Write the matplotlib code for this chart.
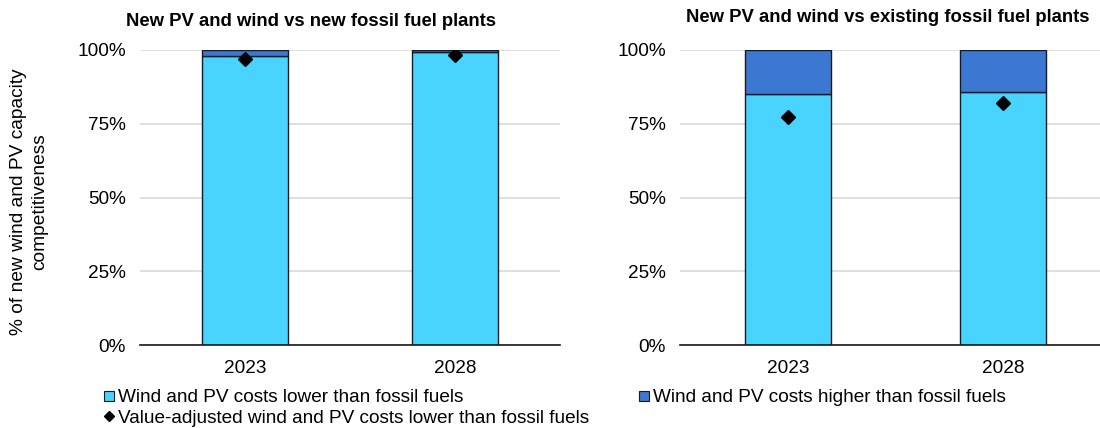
import matplotlib
matplotlib.use("Agg")
import matplotlib.pyplot as plt
from matplotlib.lines import Line2D
from matplotlib.ticker import PercentFormatter

plt.rcParams['font.family'] = ['Liberation Sans', 'DejaVu Sans']

years = ['2023', '2028']
# New PV and wind vs new fossil fuel plants
new_lower = [97.8, 99.3]
new_adj = [97.0, 98.3]
# New PV and wind vs existing fossil fuel plants
exist_lower = [85.0, 85.7]
exist_adj = [77.2, 82.0]

light = '#48D4FF'
dark = '#3C78D2'
fs = 13.7

fig = plt.figure(figsize=(11, 4.28), dpi=100)
ax1 = fig.add_axes([140 / 1100, 83 / 428, 420 / 1100, 295 / 428])
ax2 = fig.add_axes([680 / 1100, 83 / 428, 420 / 1100, 295 / 428])


def draw(ax, lower, adj, xlim, width):
    pos = list(range(len(years)))
    higher = [100 - v for v in lower]
    ax.bar(pos, lower, width=width, color=light, edgecolor='#1a1a1a', linewidth=1, zorder=2)
    ax.bar(pos, higher, bottom=lower, width=width, color=dark, edgecolor='#1a1a1a', linewidth=1, zorder=2)
    ax.plot(pos, adj, linestyle='none', marker='D', color='black', markersize=7.5, zorder=3)
    ax.set_xlim(*xlim)
    ax.set_ylim(0, 100)
    ax.set_yticks([0, 25, 50, 75, 100])
    ax.yaxis.set_major_formatter(PercentFormatter(decimals=0))
    ax.set_xticks(pos)
    ax.set_xticklabels(years)
    ax.grid(axis='y', color='#D9D9D9', linewidth=1.2, zorder=0)
    ax.set_axisbelow(True)
    for s in ['top', 'right', 'left']:
        ax.spines[s].set_visible(False)
    ax.spines['bottom'].set_color('#1a1a1a')
    ax.spines['bottom'].set_linewidth(1.2)
    ax.spines['bottom'].set_zorder(4)
    ax.tick_params(axis='both', length=0, labelsize=fs, pad=10)
    ax.tick_params(axis='x', pad=11)


draw(ax1, new_lower, new_adj, (-0.5, 1.5), 0.405)
draw(ax2, exist_lower, exist_adj, (-0.502, 1.451), 0.40)

fig.text(311 / 1100, 1 - 22 / 428, 'New PV and wind vs new fossil fuel plants',
         ha='center', va='center', fontsize=13.3, fontweight='bold')
fig.text(888 / 1100, 1 - 18 / 428, 'New PV and wind vs existing fossil fuel plants',
         ha='center', va='center', fontsize=13.3, fontweight='bold')

fig.text(29 / 1100, 1 - 202 / 428, '% of new wind and PV capacity\ncompetitiveness',
         rotation=90, ha='center', va='center', fontsize=13.8, linespacing=1.3)

h_light = Line2D([], [], linestyle='none', marker='s', markersize=7.5,
                 markerfacecolor=light, markeredgecolor='#1a1a1a', markeredgewidth=0.8)
h_dark = Line2D([], [], linestyle='none', marker='s', markersize=7.5,
                markerfacecolor=dark, markeredgecolor='#1a1a1a', markeredgewidth=0.8)
h_adj = Line2D([], [], linestyle='none', marker='D', markersize=5, color='black')

fig.legend([h_light, h_adj],
           ['Wind and PV costs lower than fossil fuels',
            'Value-adjusted wind and PV costs lower than fossil fuels'],
           loc='upper left', bbox_to_anchor=(104 / 1100, 1 - 389 / 428),
           frameon=False, fontsize=fs,
           handlelength=0.55, handletextpad=0.2,
           labelspacing=0.18, borderaxespad=0, borderpad=0)
fig.legend([h_dark], ['Wind and PV costs higher than fossil fuels'],
           loc='upper left', bbox_to_anchor=(639 / 1100, 1 - 389 / 428),
           frameon=False, fontsize=fs,
           handlelength=0.55, handletextpad=0.2,
           borderaxespad=0, borderpad=0)

fig.savefig('out.png', dpi=100)
